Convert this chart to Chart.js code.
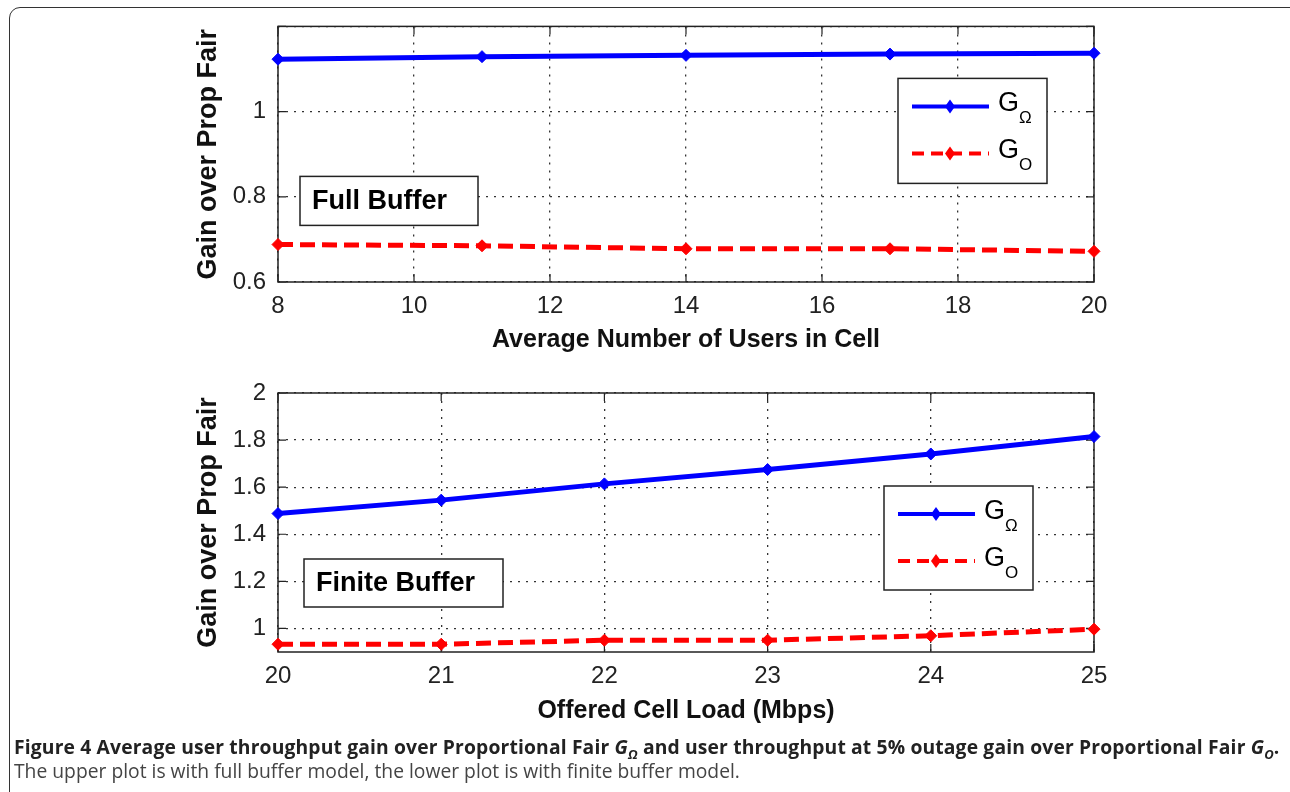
<!DOCTYPE html>
<html>
<head>
<meta charset="utf-8">
<script src="https://cdn.jsdelivr.net/npm/chart.js@4.4.1/dist/chart.umd.min.js"></script>
<style>
  html, body { margin: 0; padding: 0; background: #fff; overflow: hidden; }
  body { width: 1290px; height: 792px; position: relative; }
  .frame {
    position: absolute; left: 9px; top: 7px; width: 1320px; height: 820px;
    border: 1.5px solid #333; border-top-left-radius: 11px; box-sizing: border-box;
  }
  .plot { position: absolute; left: 0; width: 1290px; }
  #topWrap { top: 0; height: 360px; }
  #bottomWrap { top: 360px; height: 375px; }
  .caption {
    position: absolute; left: 14px; top: 735px; white-space: nowrap;
    font-family: "Open Sans", sans-serif; font-size: 19.3px; line-height: 24px;
  }
  .caption .l1 { font-weight: bold; color: #222; letter-spacing: 0.15px; }
  .caption .l2 { color: #444; }
  .caption i sub { font-size: 13px; line-height: 0; }
</style>
</head>
<body>
<div class="frame"></div>
<div class="plot" id="topWrap"><canvas id="fullChart" width="1290" height="360"></canvas></div>
<div class="plot" id="bottomWrap"><canvas id="finiteChart" width="1290" height="375"></canvas></div>
<div class="caption">
  <div class="l1">Figure 4 Average user throughput gain over Proportional Fair <i>G<sub>Ω</sub></i> and user throughput at 5% outage gain over Proportional Fair <i>G<sub>O</sub></i>.</div>
  <div class="l2">The upper plot is with full buffer model, the lower plot is with finite buffer model.</div>
</div>
<script>
// Full buffer data (upper plot)
const usersInCell = [8, 11, 14, 17, 20];
const fullGainOmega = [1.123, 1.129, 1.132, 1.135, 1.137];
const fullGainO = [0.688, 0.685, 0.678, 0.678, 0.672];

// Finite buffer data (lower plot)
const offeredLoad = [20, 21, 22, 23, 24, 25];
const finiteGainOmega = [1.488, 1.545, 1.614, 1.675, 1.741, 1.815];
const finiteGainO = [0.933, 0.933, 0.950, 0.950, 0.969, 0.997];

// Legend labels: main letter + subscript
const seriesNames = [['G', 'Ω'], ['G', 'O']];

const FONT = '"Liberation Sans", Arial, sans-serif';
const BLUE = '#0000ff';
const RED = '#ff0000';

const toPoints = (xs, ys) => xs.map((x, i) => ({ x: x, y: ys[i] }));
const fmt = v => String(Number(v.toFixed(2)));

const makeSeries = (label, points, color, dashed) => ({
    label: label,
    data: points,
    borderColor: color,
    backgroundColor: color,
    borderWidth: 5,
    borderDash: dashed ? [15, 7] : [],
    pointStyle: 'rectRot',
    pointRadius: 6,
    pointBorderWidth: 1,
    pointBorderColor: color,
    pointBackgroundColor: color,
    tension: 0,
    clip: false
});

// MATLAB style box, inward ticks, text box and legend
const matlabBox = {
    id: 'matlabBox',
    beforeDatasetsDraw(chart, args, opts) {
        const { ctx, chartArea: a, scales } = chart;
        ctx.save();
        ctx.strokeStyle = '#222';
        ctx.lineWidth = 1.5;
        ctx.strokeRect(a.left, a.top, a.right - a.left, a.bottom - a.top);
        ctx.lineWidth = 1.2;
        ctx.beginPath();
        scales.x.ticks.forEach(t => {
            const px = scales.x.getPixelForValue(t.value);
            ctx.moveTo(px, a.bottom); ctx.lineTo(px, a.bottom - 8);
            ctx.moveTo(px, a.top); ctx.lineTo(px, a.top + 8);
        });
        scales.y.ticks.forEach(t => {
            const py = scales.y.getPixelForValue(t.value);
            ctx.moveTo(a.left, py); ctx.lineTo(a.left + 8, py);
            ctx.moveTo(a.right, py); ctx.lineTo(a.right - 8, py);
        });
        ctx.stroke();
        ctx.restore();
    },
    afterDraw(chart, args, opts) {
        const { ctx, chartArea: a } = chart;
        ctx.save();
        // annotation box
        const n = opts.note;
        ctx.fillStyle = '#fff';
        ctx.fillRect(a.left + n.dx, a.top + n.dy, n.w, n.h);
        ctx.strokeStyle = '#222';
        ctx.lineWidth = 1.5;
        ctx.strokeRect(a.left + n.dx, a.top + n.dy, n.w, n.h);
        ctx.fillStyle = '#000';
        ctx.font = 'bold 27px ' + FONT;
        ctx.textBaseline = 'middle';
        ctx.fillText(n.text, a.left + n.dx + 12, a.top + n.dy + n.h / 2 + 1);

        // legend
        const g = opts.legend;
        const lx = a.right - g.dr - g.w;
        const ly = a.top + g.dy;
        ctx.fillStyle = '#fff';
        ctx.fillRect(lx, ly, g.w, g.h);
        ctx.strokeRect(lx, ly, g.w, g.h);
        chart.data.datasets.forEach((ds, i) => {
            const y = ly + 28 + i * 47;
            ctx.save();
            ctx.strokeStyle = ds.borderColor;
            ctx.lineWidth = 4;
            ctx.setLineDash(ds.borderDash.length ? [12, 7] : []);
            ctx.beginPath();
            ctx.moveTo(lx + 14, y);
            ctx.lineTo(lx + 91, y);
            ctx.stroke();
            ctx.setLineDash([]);
            ctx.fillStyle = ds.borderColor;
            ctx.beginPath();
            ctx.moveTo(lx + 52, y - 7); ctx.lineTo(lx + 57, y);
            ctx.lineTo(lx + 52, y + 7); ctx.lineTo(lx + 47, y);
            ctx.closePath();
            ctx.fill();
            ctx.restore();
            ctx.fillStyle = '#000';
            ctx.textBaseline = 'alphabetic';
            ctx.font = '27px ' + FONT;
            ctx.fillText(seriesNames[i][0], lx + 100, y + 5);
            ctx.font = '17px ' + FONT;
            ctx.fillText(seriesNames[i][1], lx + 121, y + 17);
        });
        ctx.restore();
    }
};

const axisOptions = (xMin, xMax, xStep, yMin, yMax, xTitle, yHidden, titlePad) => ({
    x: {
        type: 'linear',
        min: xMin, max: xMax,
        ticks: { stepSize: xStep, padding: 10, color: '#222', font: { family: FONT, size: 24 }, callback: v => fmt(v) },
        grid: { color: '#333', lineWidth: 1.3, drawTicks: false },
        border: { display: false, dash: [2, 6] },
        title: { display: true, text: xTitle, color: '#111', font: { family: FONT, size: 25, weight: 'bold' }, padding: { top: 0, bottom: titlePad } }
    },
    y: {
        min: yMin, max: yMax,
        afterFit: s => { s.width = 88; },
        ticks: { stepSize: 0.2, includeBounds: false, padding: 12, color: '#222', font: { family: FONT, size: 24 },
                 callback: v => yHidden(v) ? '' : fmt(v) },
        grid: { color: '#333', lineWidth: 1.3, drawTicks: false },
        border: { display: false, dash: [2, 6] },
        title: { display: true, text: 'Gain over Prop Fair', color: '#111', font: { family: FONT, size: 27, weight: 'bold' }, padding: { top: 2, bottom: 0 } }
    }
});

const buildChart = (id, xs, omega, outage, scales, xHeight, padTop, note, legend) => {
    const ctx = document.getElementById(id).getContext('2d');
    scales.x.afterFit = s => { s.height = xHeight; };
    return new Chart(ctx, {
        type: 'line',
        data: {
            datasets: [
                makeSeries('G_Ω', toPoints(xs, omega), BLUE, false),
                makeSeries('G_O', toPoints(xs, outage), RED, true)
            ]
        },
        options: {
            responsive: false,
            animation: false,
            layout: { padding: { left: 190, right: 196, top: padTop, bottom: 0 } },
            plugins: {
                legend: { display: false },
                tooltip: { enabled: false },
                matlabBox: { note: note, legend: legend }
            },
            scales: scales
        },
        plugins: [matlabBox]
    });
};

buildChart('fullChart', usersInCell, fullGainOmega, fullGainO,
    axisOptions(8, 20, 2, 0.6, 1.2, 'Average Number of Users in Cell', v => v > 1.1, 5),
    78, 23,
    { text: 'Full Buffer', dx: 22, dy: 150, w: 178, h: 49 },
    { dr: 47, dy: 52, w: 149, h: 105 });

buildChart('finiteChart', offeredLoad, finiteGainOmega, finiteGainO,
    axisOptions(20, 25, 1, 0.9, 2, 'Offered Cell Load (Mbps)', v => v < 0.95, 9),
    83, 33,
    { text: 'Finite Buffer', dx: 26, dy: 166, w: 199, h: 48 },
    { dr: 61, dy: 93, w: 149, h: 104 });
</script>
</body>
</html>
